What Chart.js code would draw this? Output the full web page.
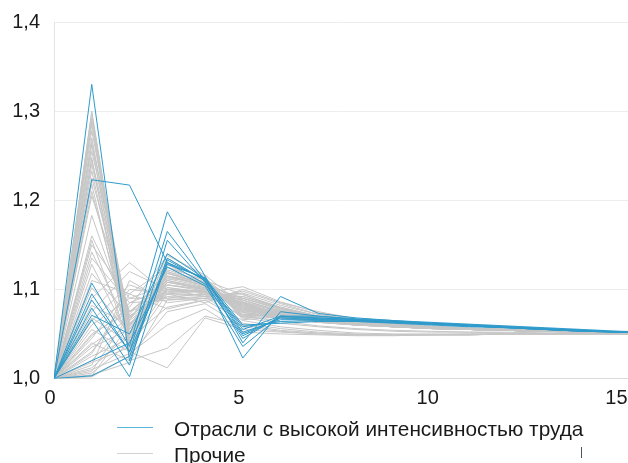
<!DOCTYPE html>
<html>
<head>
<meta charset="utf-8">
<script src="https://cdn.jsdelivr.net/npm/chart.js@4"></script>
<style>
html,body{margin:0;padding:0;background:#fff;}
#wrap{position:relative;width:628px;height:463px;overflow:hidden;}
canvas{display:block;}
#legend{position:absolute;left:117px;top:416px;font-family:"Liberation Sans",Arial,sans-serif;font-size:20.8px;color:#1a1a1a;line-height:26px;}
.item{position:relative;height:26px;white-space:nowrap;padding-left:57px;}
.sw{position:absolute;left:0;top:11px;width:36px;height:1px;}
#mark{position:absolute;left:581px;top:447px;width:1px;height:11px;background:#4a5560;}
</style>
</head>
<body>
<div id="wrap">
<canvas id="c" width="628" height="463"></canvas>
<div id="legend"></div>
<div id="mark"></div>
</div>
<script>
// Periods (x values)
const periods = [0,1,2,3,4,5,6,7,8,9,10,11,12,13,14,15,16];
const xTicks = [0,5,10,15];
const yTicks = [1.0,1.1,1.2,1.3,1.4];
const legendLabels = ["Отрасли с высокой интенсивностью труда", "Прочие"];

// Labour-intensive industries (blue)
const laborIntensive = [
  [1,1.330,1.020,1.135,1.110,1.050,1.068,1.068,1.066,1.064,1.062,1.060,1.058,1.056,1.054,1.052,1.051],
  [1,1.223,1.217,1.130,1.112,1.055,1.070,1.070,1.067,1.065,1.062,1.060,1.058,1.056,1.054,1.052,1.051],
  [1,1.107,1.036,1.187,1.115,1.040,1.092,1.073,1.068,1.065,1.063,1.061,1.059,1.057,1.055,1.053,1.052],
  [1,1.088,1.030,1.165,1.110,1.023,1.075,1.070,1.066,1.064,1.062,1.060,1.058,1.056,1.054,1.052,1.051],
  [1,1.079,1.015,1.155,1.108,1.045,1.070,1.068,1.066,1.064,1.062,1.060,1.058,1.056,1.054,1.052,1.051],
  [1,1.071,1.050,1.140,1.112,1.052,1.066,1.066,1.065,1.063,1.061,1.059,1.057,1.055,1.054,1.052,1.051],
  [1,1.066,1.002,1.133,1.110,1.058,1.064,1.065,1.064,1.063,1.061,1.059,1.057,1.055,1.053,1.052,1.051],
  [1,1.003,1.025,1.130,1.106,1.048,1.068,1.066,1.065,1.063,1.061,1.059,1.057,1.055,1.053,1.052,1.051],
  [1,1.095,1.030,1.128,1.113,1.060,1.062,1.064,1.064,1.062,1.060,1.058,1.057,1.055,1.053,1.052,1.051],
  [1,1.020,1.040,1.125,1.104,1.036,1.070,1.067,1.065,1.063,1.061,1.059,1.057,1.055,1.053,1.052,1.051]
];

// Other industries (grey)
const otherIndustries = [
  [1,1.300,1.040,1.120,1.105,1.075,1.072,1.066,1.062,1.060,1.058,1.056,1.055,1.054,1.053,1.052,1.051],
  [1,1.292,1.055,1.105,1.100,1.080,1.070,1.064,1.061,1.059,1.057,1.056,1.055,1.054,1.053,1.052,1.051],
  [1,1.285,1.030,1.130,1.112,1.070,1.074,1.067,1.063,1.060,1.058,1.056,1.055,1.054,1.053,1.052,1.051],
  [1,1.278,1.062,1.095,1.098,1.085,1.072,1.065,1.061,1.059,1.057,1.055,1.054,1.053,1.052,1.051,1.051],
  [1,1.270,1.048,1.115,1.108,1.078,1.068,1.063,1.060,1.058,1.056,1.055,1.054,1.053,1.052,1.051,1.050],
  [1,1.262,1.035,1.125,1.104,1.072,1.071,1.066,1.062,1.060,1.058,1.056,1.055,1.054,1.053,1.052,1.051],
  [1,1.255,1.070,1.100,1.096,1.088,1.075,1.067,1.062,1.059,1.057,1.056,1.055,1.054,1.053,1.052,1.051],
  [1,1.248,1.025,1.135,1.110,1.068,1.070,1.065,1.061,1.059,1.057,1.055,1.054,1.053,1.052,1.051,1.050],
  [1,1.240,1.058,1.110,1.102,1.082,1.069,1.064,1.061,1.058,1.057,1.055,1.054,1.053,1.052,1.051,1.050],
  [1,1.233,1.045,1.118,1.106,1.076,1.073,1.066,1.062,1.060,1.058,1.056,1.055,1.054,1.053,1.052,1.051],
  [1,1.225,1.065,1.098,1.099,1.090,1.078,1.068,1.063,1.060,1.058,1.056,1.055,1.054,1.053,1.052,1.051],
  [1,1.218,1.038,1.128,1.107,1.074,1.070,1.065,1.061,1.059,1.057,1.055,1.054,1.053,1.052,1.051,1.050],
  [1,1.210,1.052,1.108,1.101,1.084,1.072,1.066,1.062,1.059,1.057,1.056,1.055,1.054,1.053,1.052,1.051],
  [1,1.205,1.075,1.092,1.094,1.092,1.080,1.070,1.064,1.061,1.058,1.056,1.055,1.054,1.053,1.052,1.051],
  [1,1.298,1.028,1.140,1.114,1.066,1.069,1.064,1.061,1.058,1.057,1.055,1.054,1.053,1.052,1.051,1.050],
  [1,1.265,1.060,1.102,1.097,1.086,1.071,1.065,1.062,1.059,1.057,1.056,1.055,1.054,1.053,1.052,1.051],
  [1,1.288,1.042,1.112,1.109,1.079,1.070,1.064,1.061,1.059,1.057,1.055,1.054,1.053,1.052,1.051,1.050],
  [1,1.245,1.068,1.096,1.100,1.083,1.073,1.066,1.062,1.059,1.057,1.055,1.054,1.053,1.052,1.051,1.051],
  [1,1.183,1.060,1.100,1.097,1.080,1.070,1.064,1.060,1.058,1.056,1.055,1.054,1.053,1.052,1.051,1.050],
  [1,1.160,1.075,1.105,1.100,1.088,1.074,1.066,1.061,1.059,1.057,1.055,1.054,1.053,1.052,1.051,1.051],
  [1,1.155,1.040,1.118,1.106,1.070,1.068,1.063,1.060,1.058,1.056,1.055,1.054,1.053,1.052,1.051,1.050],
  [1,1.150,1.090,1.090,1.092,1.095,1.078,1.068,1.063,1.060,1.058,1.056,1.055,1.054,1.053,1.052,1.051],
  [1,1.142,1.055,1.112,1.103,1.077,1.071,1.065,1.061,1.059,1.057,1.055,1.054,1.053,1.052,1.051,1.050],
  [1,1.135,1.085,1.088,1.090,1.085,1.076,1.067,1.062,1.059,1.057,1.056,1.055,1.054,1.053,1.052,1.051],
  [1,1.128,1.045,1.122,1.108,1.072,1.069,1.064,1.061,1.058,1.057,1.055,1.054,1.053,1.052,1.051,1.050],
  [1,1.118,1.070,1.098,1.098,1.082,1.072,1.065,1.061,1.059,1.057,1.055,1.054,1.053,1.052,1.051,1.050],
  [1,1.110,1.095,1.078,1.088,1.090,1.079,1.069,1.063,1.060,1.058,1.056,1.055,1.054,1.053,1.052,1.051],
  [1,1.102,1.050,1.108,1.102,1.074,1.068,1.063,1.060,1.058,1.056,1.055,1.054,1.053,1.052,1.051,1.050],
  [1,1.090,1.130,1.095,1.085,1.100,1.085,1.075,1.067,1.062,1.059,1.057,1.055,1.054,1.053,1.052,1.051],
  [1,1.082,1.060,1.115,1.104,1.078,1.070,1.064,1.060,1.058,1.056,1.055,1.054,1.053,1.052,1.051,1.050],
  [1,1.075,1.120,1.100,1.092,1.096,1.082,1.072,1.065,1.061,1.058,1.056,1.055,1.054,1.053,1.052,1.051],
  [1,1.068,1.040,1.125,1.110,1.070,1.072,1.066,1.062,1.059,1.057,1.055,1.054,1.053,1.052,1.051,1.050],
  [1,1.060,1.090,1.105,1.098,1.088,1.076,1.067,1.062,1.059,1.057,1.055,1.054,1.053,1.052,1.051,1.051],
  [1,1.055,1.030,1.012,1.068,1.055,1.052,1.050,1.049,1.049,1.049,1.049,1.050,1.050,1.050,1.050,1.050],
  [1,1.050,1.075,1.110,1.100,1.082,1.071,1.065,1.061,1.058,1.056,1.055,1.054,1.053,1.052,1.051,1.050],
  [1,1.045,1.100,1.095,1.094,1.092,1.079,1.070,1.064,1.060,1.058,1.056,1.055,1.054,1.053,1.052,1.051],
  [1,1.040,1.020,1.034,1.070,1.060,1.054,1.051,1.049,1.049,1.049,1.050,1.050,1.050,1.050,1.050,1.050],
  [1,1.035,1.055,1.118,1.106,1.074,1.069,1.064,1.060,1.058,1.056,1.055,1.054,1.053,1.052,1.051,1.050],
  [1,1.030,1.085,1.102,1.096,1.084,1.074,1.066,1.062,1.059,1.057,1.055,1.054,1.053,1.052,1.051,1.050],
  [1,1.025,1.045,1.080,1.088,1.065,1.058,1.054,1.051,1.050,1.050,1.050,1.050,1.050,1.050,1.050,1.050],
  [1,1.020,1.065,1.130,1.112,1.080,1.073,1.066,1.062,1.059,1.057,1.055,1.054,1.053,1.052,1.051,1.051],
  [1,1.018,1.035,1.095,1.094,1.070,1.064,1.059,1.056,1.054,1.053,1.052,1.052,1.051,1.051,1.051,1.050],
  [1,1.015,1.110,1.085,1.090,1.098,1.084,1.072,1.066,1.061,1.058,1.056,1.055,1.054,1.053,1.052,1.051],
  [1,1.012,1.050,1.108,1.100,1.076,1.070,1.064,1.060,1.058,1.056,1.055,1.054,1.053,1.052,1.051,1.050],
  [1,1.010,1.028,1.060,1.078,1.052,1.050,1.049,1.048,1.048,1.049,1.049,1.050,1.050,1.050,1.050,1.050],
  [1,1.008,1.072,1.120,1.108,1.086,1.075,1.067,1.062,1.059,1.057,1.055,1.054,1.053,1.052,1.051,1.050],
  [1,1.006,1.040,1.100,1.097,1.068,1.062,1.058,1.055,1.053,1.052,1.052,1.051,1.051,1.051,1.050,1.050],
  [1,1.004,1.018,1.088,1.092,1.062,1.056,1.052,1.050,1.049,1.049,1.049,1.050,1.050,1.050,1.050,1.050],
  [1,1.003,1.060,1.114,1.104,1.080,1.072,1.065,1.061,1.058,1.056,1.055,1.054,1.053,1.052,1.051,1.050],
  [1,1.002,1.025,1.075,1.084,1.058,1.053,1.050,1.049,1.049,1.049,1.049,1.050,1.050,1.050,1.050,1.050],
  [1,1.028,1.095,1.125,1.110,1.094,1.080,1.070,1.064,1.060,1.058,1.056,1.055,1.054,1.053,1.052,1.051],
  [1,1.048,1.080,1.138,1.116,1.082,1.074,1.067,1.062,1.059,1.057,1.055,1.054,1.053,1.052,1.051,1.050],
  [1,1.065,1.105,1.090,1.096,1.103,1.086,1.074,1.066,1.061,1.058,1.056,1.055,1.054,1.053,1.052,1.051],
  [1,1.038,1.068,1.115,1.105,1.090,1.077,1.068,1.063,1.059,1.057,1.055,1.054,1.053,1.052,1.051,1.050]
];

const BLUE = '#2f9bcb';
const GREY = '#c6c6c6';
const FONT = {family: '"Liberation Sans", Arial, sans-serif', size: 20};

function toPoints(vals){ return vals.map((v,i)=>({x: periods[i], y: v})); }

const datasets = [];
laborIntensive.forEach(s => datasets.push({label: legendLabels[0], data: toPoints(s), borderColor: BLUE, borderWidth: 1}));
otherIndustries.forEach(s => datasets.push({label: legendLabels[1], data: toPoints(s), borderColor: GREY, borderWidth: 1}));

new Chart(document.getElementById('c'), {
  type: 'line',
  data: {datasets},
  options: {
    responsive: false,
    animation: false,
    devicePixelRatio: 1,
    layout: {padding: {top: 22, right: 0, bottom: 0, left: 0}},
    plugins: {legend: {display: false}, tooltip: {enabled: false}},
    elements: {point: {radius: 0}, line: {tension: 0, borderWidth: 1}},
    scales: {
      x: {
        type: 'linear', min: 0, max: 15.2,
        afterBuildTicks: s => { s.ticks = xTicks.map(v => ({value: v})); },
        ticks: {font: FONT, color: '#1a1a1a', padding: 8, labelOffset: -4, maxRotation: 0, includeBounds: false,
                callback: v => String(v)},
        grid: {display: false, drawTicks: false},
        border: {display: true, color: '#dadada', width: 1},
        afterFit: s => { s.height = 84.5; s.paddingLeft = 0; s.paddingRight = 0; }
      },
      y: {
        type: 'linear', min: 1.0, max: 1.4,
        afterBuildTicks: s => { s.ticks = yTicks.map(v => ({value: v})); },
        ticks: {font: FONT, color: '#1a1a1a', padding: 14,
                callback: v => Number(v).toFixed(1).replace('.', ',')},
        grid: {color: '#ededed', drawTicks: false, lineWidth: 1},
        border: {display: true, color: '#e4e4e4', width: 1},
        afterFit: s => { s.width = 54; s.paddingTop = 0; s.paddingBottom = 0; }
      }
    }
  }
});

// Legend (HTML text)
const lg = document.getElementById('legend');
[[legendLabels[0], '#5ab4da'], [legendLabels[1], '#d2d2d2']].forEach(([t, c]) => {
  const row = document.createElement('div'); row.className = 'item';
  const sw = document.createElement('span'); sw.className = 'sw'; sw.style.background = c;
  const tx = document.createElement('span'); tx.textContent = t;
  row.appendChild(sw); row.appendChild(tx); lg.appendChild(row);
});
</script>
</body>
</html>
